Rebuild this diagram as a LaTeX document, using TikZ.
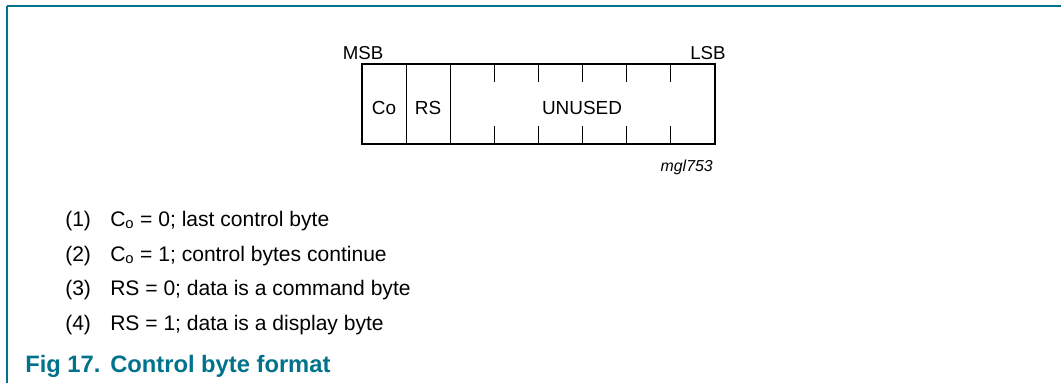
\documentclass[tikz,border=0pt]{standalone}
\usepackage{fontspec}
\setmainfont{Liberation Sans}
\usetikzlibrary{positioning}
\definecolor{figteal}{RGB}{0,114,139}
\tikzstyle{frame}    = [figteal, line width=1.1pt]
\tikzstyle{bytebox}  = [line width=0.9pt]
\tikzstyle{field}    = [inner sep=0pt, font=\fontsize{14.2pt}{16pt}\selectfont]
\tikzstyle{bitlabel} = [inner sep=0pt, font=\fontsize{14pt}{16pt}\selectfont]
\tikzstyle{note}     = [inner sep=0pt, anchor=base west, font=\fontsize{15.8pt}{18pt}\selectfont]
\tikzstyle{caption}  = [inner sep=0pt, anchor=base west, figteal, font=\fontsize{17.8pt}{20pt}\selectfont\bfseries]

\begin{document}
\begin{tikzpicture}[x=0.75pt, y=-0.75pt]
\useasboundingbox (0,0) rectangle (1061,383);

% frame
\draw[frame] (7,6) -- (1061,6);
\draw[frame, line width=0.8pt] (7,6) -- (7,383);

% byte
\draw[bytebox] (362,64) rectangle (715,144);
\foreach \i in {1,2}
  \draw[bytebox] (362+\i*44.125,64) -- (362+\i*44.125,144);
\foreach \i in {3,...,7} {
  \draw[bytebox] (362+\i*44.125,64) -- (362+\i*44.125,82);
  \draw[bytebox] (362+\i*44.125,126) -- (362+\i*44.125,144);
}

\node[bitlabel, anchor=base] (MSB) at (363,59) {MSB};
\node[bitlabel, anchor=base] (LSB) at (708,59) {LSB};
\node[field, anchor=base] (CO)     at (384,114) {Co};
\node[field, anchor=base] (RS)     at (428,114) {RS};
\node[field, anchor=base] (UNUSED) at (582,114) {UNUSED};
\node[inner sep=0pt, anchor=base east, font=\fontsize{11.9pt}{14pt}\selectfont\itshape] (TAG) at (713,171) {mgl753};

% notes
\node[note] (N1) at (65,226) {(1)};
\node[note] (T1) at (110,226) {C\textsubscript{o} = 0; last control byte};
\node[note] (N2) at (65,261) {(2)};
\node[note] (T2) at (110,261) {C\textsubscript{o} = 1; control bytes continue};
\node[note] (N3) at (65,295) {(3)};
\node[note] (T3) at (110,295) {RS = 0; data is a command byte};
\node[note] (N4) at (65,330) {(4)};
\node[note] (T4) at (110,330) {RS = 1; data is a display byte};

% caption
\node[caption] (FIGNUM)   at (25,372) {Fig 17.};
\node[caption] (FIGTITLE) at (110,372) {Control byte format};

\end{tikzpicture}
\end{document}
